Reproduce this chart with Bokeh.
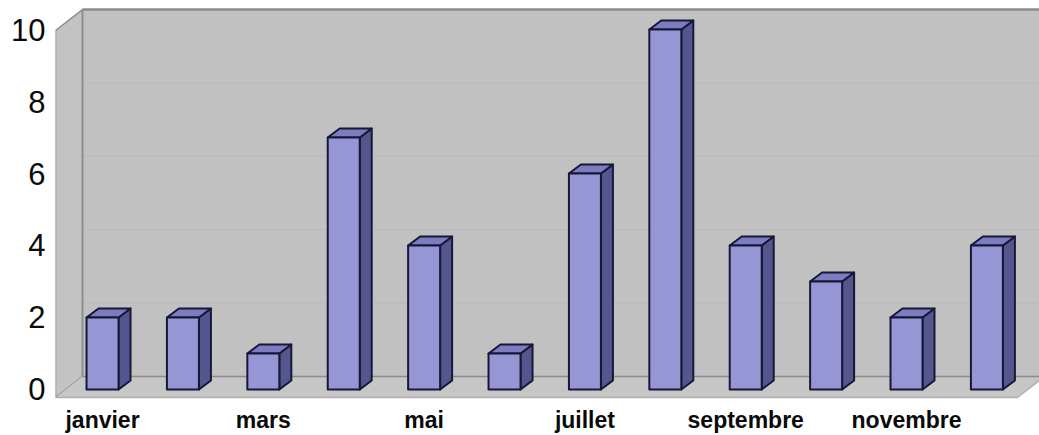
from bokeh.plotting import figure
from bokeh.models import Range1d, FixedTicker, ColumnDataSource
from bokeh.embed import file_html
from bokeh.resources import INLINE

# Monthly counts
months = ["janvier", "février", "mars", "avril", "mai", "juin",
          "juillet", "août", "septembre", "octobre", "novembre", "décembre"]
values = [2, 2, 1, 7, 4, 1, 6, 10, 4, 3, 2, 4]
y_ticks = [0, 2, 4, 6, 8, 10]
x_ticks = [0, 2, 4, 6, 8, 10]          # every other month is labelled

# pseudo-3D geometry, in data units
HALF = 0.199            # half width of a bar's front face
BDX, BDY = 0.149, 0.25  # bar depth offset
WX0 = -0.585            # front-left corner of the side wall
FLOOR_F = -0.222        # front edge of the floor
WDX, WDY = 0.336, 0.583 # wall depth offset
WALL_TOP_F = 9.972      # top of the side wall, front
X_END = 12.3
FLOOR_RIGHT = 11.38

p = figure(width=1039, height=435, output_backend="svg", toolbar_location=None,
           x_range=Range1d(-0.585, 11.654), y_range=Range1d(-0.306, 10.806),
           min_border_left=55, min_border_right=0, min_border_top=0,
           min_border_bottom=35)
p.outline_line_color = None
p.background_fill_color = "white"
p.border_fill_color = "white"
p.xgrid.visible = False
p.ygrid.visible = False

wall = "#c1c1c1"
edge = "#8c8c8c"
xb = WX0 + WDX
yb0 = FLOOR_F + WDY
yb1 = WALL_TOP_F + WDY

# back wall
p.quad(left=[xb], right=[X_END], bottom=[yb0], top=[yb1],
       fill_color=wall, line_color=None)
# faint value lines on the back wall
scale = (WALL_TOP_F - FLOOR_F) / 10.0
gy = [yb0 + t * scale for t in y_ticks[1:-1]]
p.segment(x0=[xb] * len(gy), x1=[X_END] * len(gy), y0=gy, y1=gy,
          line_color="#bababa", line_width=1)
# side wall
p.patch(x=[WX0, xb, xb, WX0], y=[FLOOR_F, yb0, yb1, WALL_TOP_F],
        fill_color="#c3c3c3", line_color=edge, line_width=1.5)
# floor
p.patch(x=[WX0, xb, X_END, X_END, FLOOR_RIGHT + WDX, FLOOR_RIGHT],
        y=[FLOOR_F, yb0, yb0, yb0, yb0, FLOOR_F],
        fill_color="#c6c6c6", line_color=None)
p.line(x=[WX0, FLOOR_RIGHT, FLOOR_RIGHT + WDX], y=[FLOOR_F, FLOOR_F, yb0],
       line_color="#b0b0b0", line_width=1.5)
p.line(x=[xb, X_END], y=[yb0, yb0], line_color=edge, line_width=1.5)
p.line(x=[xb, X_END], y=[yb1, yb1], line_color=edge, line_width=2.5)
p.line(x=[xb, xb], y=[yb0, yb1], line_color=edge, line_width=1.5)

# bars
idx = list(range(len(values)))
front = ColumnDataSource(dict(left=[i - HALF for i in idx],
                              right=[i + HALF for i in idx],
                              top=values, bottom=[0] * len(values)))
side = ColumnDataSource(dict(
    xs=[[i + HALF, i + HALF + BDX, i + HALF + BDX, i + HALF] for i in idx],
    ys=[[0, BDY, v + BDY, v] for v in values]))
cap = ColumnDataSource(dict(
    xs=[[i - HALF, i - HALF + BDX, i + HALF + BDX, i + HALF] for i in idx],
    ys=[[v, v + BDY, v + BDY, v] for v in values]))

outline = "#17173a"
p.patches(xs="xs", ys="ys", source=side, fill_color="#56568f",
          line_color=outline, line_width=2, line_join="round")
p.patches(xs="xs", ys="ys", source=cap, fill_color="#7c7cbf",
          line_color=outline, line_width=2, line_join="round")
p.quad(left="left", right="right", top="top", bottom="bottom", source=front,
       fill_color="#9696d4", line_color=outline, line_width=2, line_join="round")

# axes
ya = p.yaxis[0]
ya.ticker = FixedTicker(ticks=y_ticks)
ya.axis_line_color = None
ya.major_tick_line_color = None
ya.minor_tick_line_color = None
ya.major_tick_out = 0
ya.major_tick_in = 0
ya.major_label_standoff = 10
ya.major_label_text_font = "Liberation Sans"
ya.major_label_text_font_size = "31px"
ya.major_label_text_color = "#0a0a0a"

xa = p.xaxis[0]
xa.ticker = FixedTicker(ticks=x_ticks)
xa.major_label_overrides = {i: months[i] for i in x_ticks}
xa.axis_line_color = None
xa.major_tick_line_color = None
xa.minor_tick_line_color = None
xa.major_tick_out = 0
xa.major_tick_in = 0
xa.major_label_standoff = 6
xa.major_label_text_font = "Liberation Sans"
xa.major_label_text_font_size = "23px"
xa.major_label_text_font_style = "bold"
xa.major_label_text_color = "#0a0a0a"

open("out.html", "w").write(file_html(p, INLINE))
